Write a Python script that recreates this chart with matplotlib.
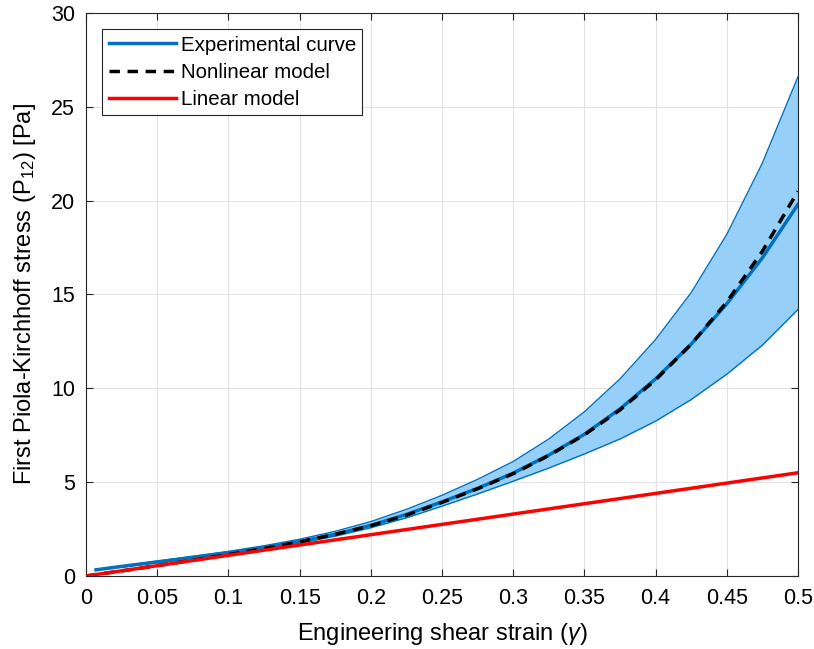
import numpy as np
import matplotlib
matplotlib.use('Agg')
import matplotlib.pyplot as plt

plt.rcParams['font.family'] = ['Liberation Sans', 'DejaVu Sans']
plt.rcParams['mathtext.fontset'] = 'custom'
plt.rcParams['mathtext.rm'] = 'Liberation Sans'
plt.rcParams['mathtext.it'] = 'Liberation Sans:italic'

# experimental strain points (band + mean curve)
gamma_exp = [0.007, 0.025, 0.05, 0.075, 0.1, 0.125, 0.15, 0.175, 0.2, 0.225, 0.25,
             0.275, 0.3, 0.325, 0.35, 0.375, 0.4, 0.425, 0.45, 0.475, 0.5]
p_mean = [0.33, 0.51, 0.75, 0.99, 1.24, 1.51, 1.83, 2.22, 2.70, 3.28, 3.95,
          4.67, 5.48, 6.44, 7.55, 8.90, 10.5, 12.35, 14.5, 16.95, 19.8]
p_upper = [0.35, 0.53, 0.79, 1.05, 1.31, 1.61, 1.96, 2.38, 2.90, 3.55, 4.30,
           5.15, 6.10, 7.30, 8.75, 10.5, 12.6, 15.1, 18.2, 22.0, 26.6]
p_lower = [0.31, 0.47, 0.71, 0.95, 1.19, 1.45, 1.75, 2.12, 2.57, 3.10, 3.72,
           4.37, 5.05, 5.75, 6.50, 7.30, 8.25, 9.40, 10.75, 12.3, 14.2]

# nonlinear model
gamma_mod = [0, 0.025, 0.05, 0.075, 0.1, 0.125, 0.15, 0.175, 0.2, 0.225, 0.25,
             0.275, 0.3, 0.325, 0.35, 0.375, 0.4, 0.425, 0.45, 0.475, 0.5]
p_nonlin = [0, 0.27, 0.55, 0.84, 1.14, 1.46, 1.82, 2.22, 2.68, 3.24, 3.92,
            4.65, 5.45, 6.42, 7.52, 8.85, 10.45, 12.35, 14.6, 17.3, 20.5]

# linear model
gamma_lin = [0, 0.5]
p_lin = [0, 5.5]

xticks = [0, 0.05, 0.1, 0.15, 0.2, 0.25, 0.3, 0.35, 0.4, 0.45, 0.5]
xtick_labels = ['0', '0.05', '0.1', '0.15', '0.2', '0.25', '0.3', '0.35', '0.4', '0.45', '0.5']
yticks = [0, 5, 10, 15, 20, 25, 30]

fig = plt.figure(figsize=(8.14, 6.49), dpi=100)
ax = fig.add_axes([0.1057, 0.1125, 0.8746, 0.8675])

ax.fill_between(gamma_exp, p_lower, p_upper, color='#96d0f8', lw=0, zorder=1)
ax.plot(gamma_exp, p_upper, color='#0072BD', lw=1.0, zorder=2)
ax.plot(gamma_exp, p_lower, color='#0072BD', lw=1.0, zorder=2)
ax.plot(gamma_exp, p_mean, color='#0072BD', lw=2.5, label='Experimental curve', zorder=3)
ax.plot(gamma_mod, p_nonlin, color='black', lw=2.5, ls=(0, (3, 2.2)), label='Nonlinear model', zorder=4)
ax.plot(gamma_lin, p_lin, color='#FF0000', lw=2.5, label='Linear model', zorder=5)

ax.set_xlim(0, 0.5)
ax.set_ylim(0, 30)
ax.set_xticks(xticks)
ax.set_xticklabels(xtick_labels)
ax.set_yticks(yticks)
ax.tick_params(direction='in', length=5, width=0.8, labelsize=15.5, colors='#262626',
               top=True, right=True)
ax.tick_params(axis='x', labelcolor='black', pad=9)
ax.tick_params(axis='y', labelcolor='black', pad=8)
for s in ax.spines.values():
    s.set_color('#262626')
    s.set_linewidth(0.8)
ax.grid(True, color='#e3e3e3', lw=0.8)
ax.set_axisbelow(True)

ax.set_xlabel(r'Engineering shear strain ($\gamma$)', fontsize=17, labelpad=8)
ax.set_ylabel(r'First Piola-Kirchhoff stress (P$_{\mathrm{12}}$) [Pa]', fontsize=17, labelpad=9)

leg = ax.legend(loc='upper left', fontsize=14.8, fancybox=False, framealpha=1,
                edgecolor='#262626', handlelength=3.3, borderaxespad=0.8,
                handletextpad=0.2, labelspacing=0.4, borderpad=0.3)
leg.get_frame().set_linewidth(0.8)

plt.savefig('out.png', dpi=100)
